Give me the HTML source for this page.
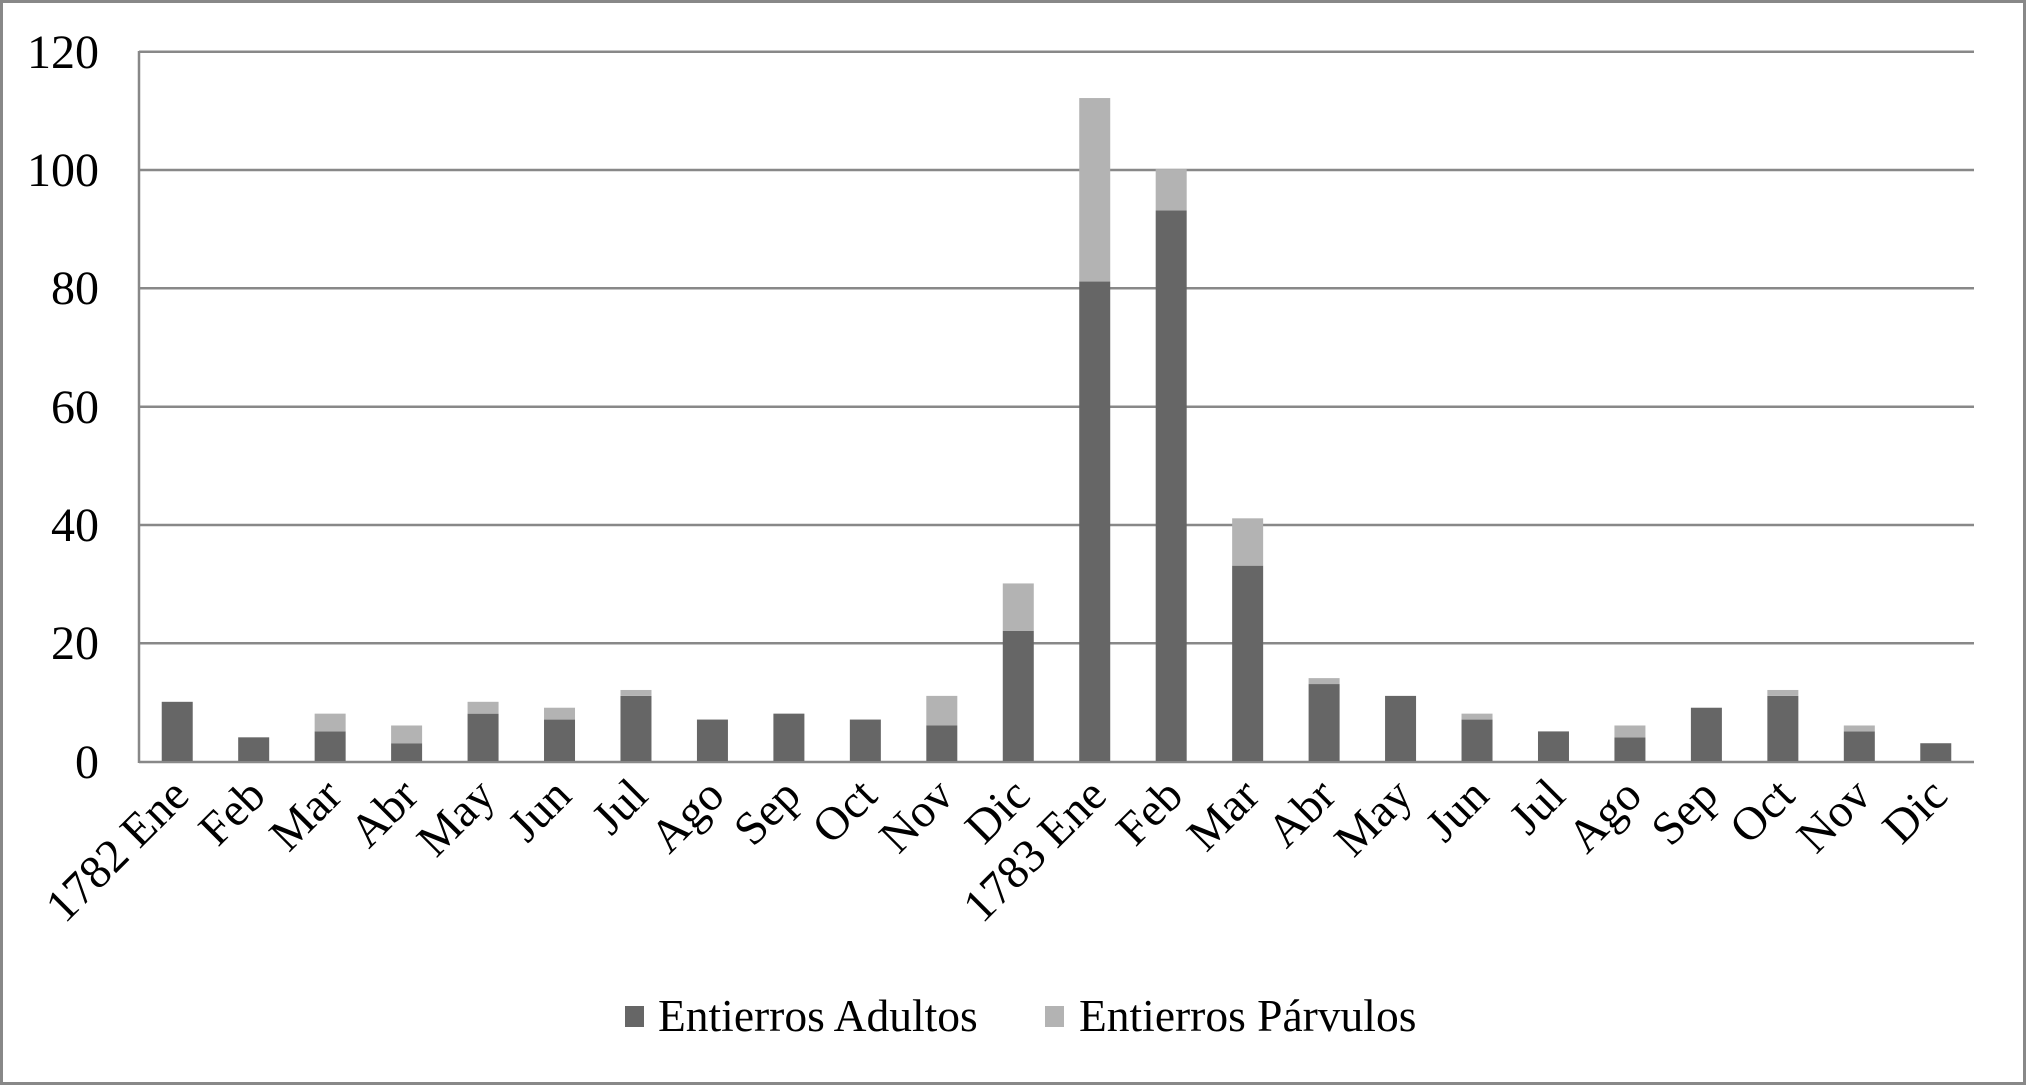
<!DOCTYPE html>
<html><head><meta charset="utf-8"><style>
html,body{margin:0;padding:0;background:#fff}
svg{display:block}
text{font-family:"Liberation Serif",serif;fill:#000}
</style></head><body>
<svg width="2026" height="1086" viewBox="0 0 2026 1086" xmlns="http://www.w3.org/2000/svg">
<rect x="1.5" y="1.5" width="2023" height="1082" fill="#fff" stroke="#888" stroke-width="3"/>
<g stroke="#888" stroke-width="2.5">
<line x1="139" y1="51.7" x2="1974" y2="51.7"/>
<line x1="139" y1="170" x2="1974" y2="170"/>
<line x1="139" y1="288.3" x2="1974" y2="288.3"/>
<line x1="139" y1="406.7" x2="1974" y2="406.7"/>
<line x1="139" y1="525" x2="1974" y2="525"/>
<line x1="139" y1="643.3" x2="1974" y2="643.3"/>
<line x1="139" y1="762" x2="1974" y2="762"/>
<line x1="139" y1="51" x2="139" y2="763"/>
</g>
<g font-size="48" text-anchor="end">
<text x="99" y="68">120</text>
<text x="99" y="186">100</text>
<text x="99" y="304">80</text>
<text x="99" y="423">60</text>
<text x="99" y="541">40</text>
<text x="99" y="659">20</text>
<text x="99" y="778">0</text>
</g>
<g id="bars"></g>
<g id="labels" font-size="47" text-anchor="end"></g>
<rect x="625" y="1006" width="19" height="21" fill="#666"/>
<text x="658" y="1031" font-size="45.5">Entierros Adultos</text>
<rect x="1045" y="1006" width="19" height="21" fill="#b3b3b3"/>
<text x="1079" y="1031" font-size="45.5">Entierros Párvulos</text>
<script>
var d=[[10,0],[4,0],[5,3],[3,3],[8,2],[7,2],[11,1],[7,0],[8,0],[7,0],[6,5],[22,8],[81,31],[93,7],[33,8],[13,1],[11,0],[7,1],[5,0],[4,2],[9,0],[11,1],[5,1],[3,0]];
var L=["1782 Ene","Feb","Mar","Abr","May","Jun","Jul","Ago","Sep","Oct","Nov","Dic","1783 Ene","Feb","Mar","Abr","May","Jun","Jul","Ago","Sep","Oct","Nov","Dic"];
var ns="http://www.w3.org/2000/svg",b=document.getElementById("bars"),lb=document.getElementById("labels");
var k=710.3/120,y0=761,cw=1835/24;
d.forEach(function(v,i){
 var cx=139+cw*(i+0.5),x=cx-15.5;
 var h1=v[0]*k,h2=v[1]*k;
 var r=document.createElementNS(ns,"rect");r.setAttribute("x",x);r.setAttribute("y",y0-h1);r.setAttribute("width",31);r.setAttribute("height",h1);r.setAttribute("fill","#666");b.appendChild(r);
 if(h2){var r2=document.createElementNS(ns,"rect");r2.setAttribute("x",x);r2.setAttribute("y",y0-h1-h2);r2.setAttribute("width",31);r2.setAttribute("height",h2);r2.setAttribute("fill","#b3b3b3");b.appendChild(r2);}
 var t=document.createElementNS(ns,"text");var tx=cx+14,ty=798;
 t.setAttribute("x",tx);t.setAttribute("y",ty);t.setAttribute("transform","rotate(-45 "+tx+" "+ty+")");t.textContent=L[i];lb.appendChild(t);
});
</script>
</svg>
</body></html>
